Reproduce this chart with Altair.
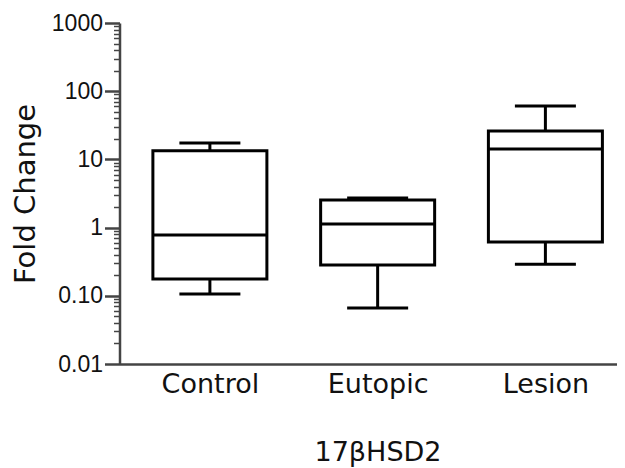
import altair as alt
import pandas as pd

groups = ["Control", "Eutopic", "Lesion"]
whisker_min = [0.106, 0.066, 0.29]
q1 = [0.176, 0.283, 0.615]
median = [0.78, 1.13, 14.2]
q3 = [13.4, 2.54, 26.1]
whisker_max = [17.4, 2.72, 60.7]

major_ticks = [0.01, 0.1, 1, 10, 100, 1000]
major_labels = ["0.01", "0.10", "1", "10", "100", "1000"]
minor_ticks = [round(m * 10.0 ** k, 6) for k in range(-2, 3) for m in range(2, 10)]

df = pd.DataFrame({
    "group": groups,
    "idx": list(range(len(groups))),
    "lo": whisker_min,
    "q1": q1,
    "med": median,
    "q3": q3,
    "hi": whisker_max,
})

major_list = "[" + ",".join(repr(v) for v in major_ticks) + "]"
is_major = f"indexof({major_list}, datum.value) >= 0"
label_expr = ""
for v, lab in zip(major_ticks, major_labels):
    label_expr += f"datum.value == {v!r} ? '{lab}' : "
label_expr += "''"

group_list = "[" + ",".join(f"'{g}'" for g in groups) + "]"
x_label_expr = f"{group_list}[datum.value]"

axis_color = "#444444"

yscale = alt.Scale(type="log", domain=[0.01, 1000], nice=False)
xscale = alt.Scale(domain=[-0.509, 2.397], nice=False, zero=False)

x_enc = alt.X(
    "idx:Q",
    scale=xscale,
    axis=alt.Axis(
        title="17βHSD2",
        titleX=258,
        values=list(range(len(groups))),
        labelExpr=x_label_expr,
        ticks=False,
        tickSize=0,
        grid=False,
        labelPadding=7,
        labelAngle=0,
        labelFont="DejaVu Sans",
        labelFontSize=27,
        labelColor="#111111",
        titleFont="DejaVu Sans",
        titleFontSize=27,
        titleFontWeight="normal",
        titleColor="#111111",
        titlePadding=42,
        domainColor=axis_color,
        domainWidth=2.5,
    ),
)

y_axis = alt.Axis(
    title="Fold Change",
    values=sorted(major_ticks + minor_ticks),
    labelExpr=label_expr,
    labelOverlap=False,
    labelFont="Liberation Sans",
    labelFontSize=23,
    labelColor="#111111",
    labelPadding=2,
    tickSize={"condition": {"test": is_major, "value": 15}, "value": 6},
    tickWidth={"condition": {"test": is_major, "value": 2.5}, "value": 1.5},
    tickColor=axis_color,
    domainColor=axis_color,
    domainWidth=2.5,
    grid=False,
    titleFont="DejaVu Sans",
    titleFontSize=29,
    titleFontWeight="normal",
    titleColor="#111111",
    titlePadding=11,
)

base = alt.Chart(df)

whisker_low = base.mark_rule(color="black", strokeWidth=3).encode(
    x=x_enc,
    y=alt.Y("lo:Q", scale=yscale, axis=y_axis),
    y2="q1:Q",
)
whisker_high = base.mark_rule(color="black", strokeWidth=3).encode(
    x=x_enc,
    y=alt.Y("q3:Q", scale=yscale, axis=y_axis),
    y2="hi:Q",
)
box = base.mark_bar(size=114, fill="white", stroke="black", strokeWidth=3).encode(
    x=x_enc,
    y=alt.Y("q1:Q", scale=yscale, axis=y_axis),
    y2="q3:Q",
)
med = base.mark_tick(size=114, thickness=3, color="black", opacity=1, orient="horizontal").encode(
    x=x_enc,
    y=alt.Y("med:Q", scale=yscale, axis=y_axis),
)
cap_lo = base.mark_tick(size=61, thickness=3, color="black", opacity=1, orient="horizontal").encode(
    x=x_enc,
    y=alt.Y("lo:Q", scale=yscale, axis=y_axis),
)
cap_hi = base.mark_tick(size=61, thickness=3, color="black", opacity=1, orient="horizontal").encode(
    x=x_enc,
    y=alt.Y("hi:Q", scale=yscale, axis=y_axis),
)

chart = alt.layer(whisker_low, whisker_high, box, med, cap_lo, cap_hi).properties(
    width=497.5,
    height=341,
    autosize=alt.AutoSizeParams(type="none"),
    padding={"left": 111.5, "top": 15, "right": 0, "bottom": 103},
    background="white",
).configure_view(stroke=None)

chart.save("out.html", embed_options={"renderer": "svg", "actions": False})
